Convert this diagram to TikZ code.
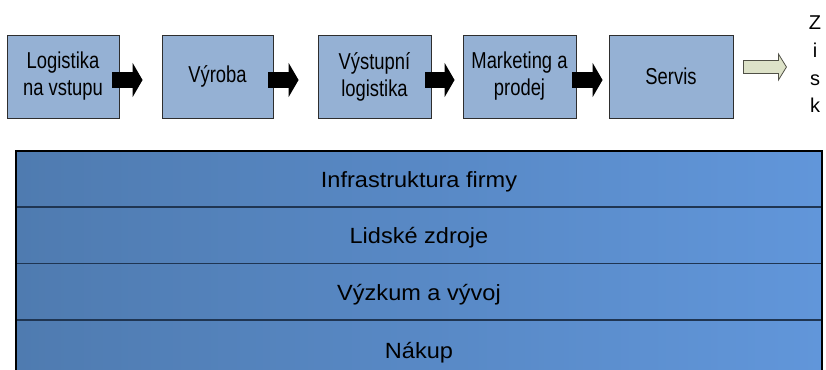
\documentclass[tikz,border=0pt]{standalone}
\usepackage{fontspec}
\setmainfont{Liberation Sans}
\newfontfamily\narrowfont{Liberation Sans}[FakeStretch=0.8]
\newfontfamily\widefont{Liberation Sans}[FakeStretch=1.07]
\usetikzlibrary{arrows.meta,calc}

\definecolor{boxfill}{HTML}{95B1D4}
\definecolor{boxline}{HTML}{2E2E2E}
\definecolor{barleft}{HTML}{4F7BB0}
\definecolor{barright}{HTML}{6196DA}
\definecolor{barsep}{HTML}{1F3552}
\definecolor{profitfill}{HTML}{DDE2C8}
\definecolor{profitline}{HTML}{505046}

\tikzset{
  stage/.style={draw=boxline, line width=0.9pt, fill=boxfill, inner sep=0pt,
    minimum height=83pt, align=center,
    font=\narrowfont\fontsize{23}{27}\selectfont},
  flowarrow/.style={draw=black, line width=16pt,
    -{Triangle[length=10pt, width=34pt]}},
  profitarrow/.style={draw=profitline, line width=0.8pt, fill=profitfill, line join=miter},
  profitletter/.style={anchor=base, inner sep=0pt,
    font=\fontsize{20}{20}\selectfont},
  supportlabel/.style={anchor=base, inner sep=0pt,
    font=\widefont\fontsize{22}{22}\selectfont},
}

\begin{document}
\begin{tikzpicture}[x=1pt, y=-1pt]
  \useasboundingbox (0,0) rectangle (826,369);

  % primary activities
  \node[stage, minimum width=112pt] (b1) at (63,76.5)    {Logistika\\na vstupu};
  \node[stage, minimum width=111pt] (b2) at (217.5,76.5) {Výroba};
  \node[stage, minimum width=113pt] (b3) at (374.5,76.5) {Výstupní\\logistika};
  \node[stage, minimum width=113pt] (b4) at (519.5,76.5) {Marketing a\\prodej};
  \node[stage, minimum width=124pt] (b5) at (671,76.5)   {Servis};

  % black block arrows between the stages
  \draw[flowarrow] ($(b1.east)+(-7,3.5)$) -- ($(b2.west)+(-19,3.5)$);
  \draw[flowarrow] ($(b2.east)+(-5,3.5)$) -- ($(b3.west)+(-19,3.5)$);
  \draw[flowarrow] ($(b3.east)+(-6,3.5)$) -- ($(b4.west)+(-8,3.5)$);
  \draw[flowarrow] ($(b4.east)+(-4,3.5)$) -- ($(b5.west)+(-6,3.5)$);

  % hollow arrow towards the profit
  \coordinate (hs) at ($(b5.east)+(10,-9.5)$);
  \draw[profitarrow] (hs) ++(0,-6.5) -- ++(35,0) -- ++(0,-6.5) -- ++(8,13)
    -- ++(-8,13) -- ++(0,-6.5) -- ++(-35,0) -- cycle;

  % vertical word "Zisk"
  \node[profitletter] (z1) at (815,30)  {Z};
  \node[profitletter] (z2) at (815,58)  {i};
  \node[profitletter] (z3) at (815,85)  {s};
  \node[profitletter] (z4) at (815,112) {k};

  % support activities
  \shade[left color=barleft, right color=barright, shading angle=90]
    (16,151) rectangle (822,380);
  \draw[barsep, line width=1.3pt] (16,207) -- (822,207)
    (16,263.5) -- (822,263.5) (16,320) -- (822,320);
  \draw[black, line width=1.4pt] (16,380) -- (16,151) -- (822,151) -- (822,380);

  \node[supportlabel] (s1) at (419,187)   {Infrastruktura firmy};
  \node[supportlabel] (s2) at (419,243.5) {Lidské zdroje};
  \node[supportlabel] (s3) at (419,300)   {Výzkum a vývoj};
  \node[supportlabel] (s4) at (419,358)   {Nákup};
\end{tikzpicture}
\end{document}
